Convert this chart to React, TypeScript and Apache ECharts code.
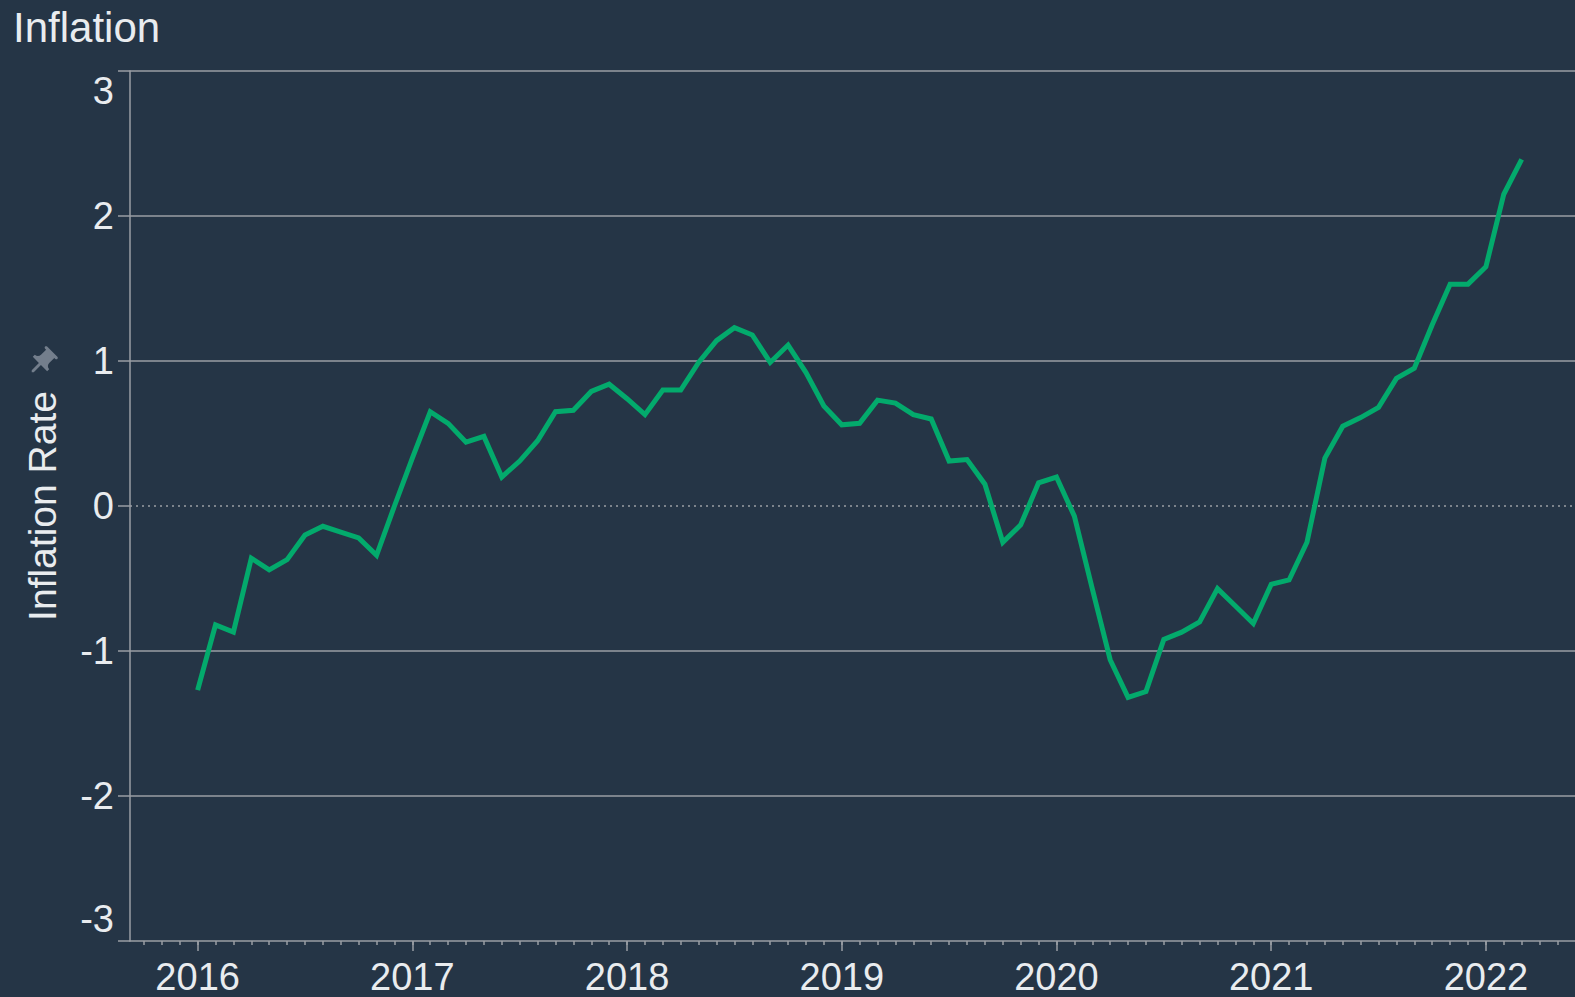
import React, { useEffect, useRef } from "react";
import * as echarts from "echarts";

// ---- data ----
const years = [2016, 2017, 2018, 2019, 2020, 2021, 2022];
const rate2016 = [-1.27, -0.82, -0.87, -0.36, -0.44, -0.37, -0.2, -0.14, -0.18, -0.22, -0.34, 0.0];
const rate2017 = [0.33, 0.65, 0.57, 0.44, 0.48, 0.2, 0.31, 0.45, 0.65, 0.66, 0.79, 0.84];
const rate2018 = [0.74, 0.63, 0.8, 0.8, 0.99, 1.14, 1.23, 1.18, 0.99, 1.11, 0.92, 0.69];
const rate2019 = [0.56, 0.57, 0.73, 0.71, 0.63, 0.6, 0.31, 0.32, 0.15, -0.25, -0.13, 0.16];
const rate2020 = [0.2, -0.07, -0.57, -1.06, -1.32, -1.28, -0.92, -0.87, -0.8, -0.57, -0.69, -0.81];
const rate2021 = [-0.54, -0.51, -0.25, 0.33, 0.55, 0.61, 0.68, 0.88, 0.95, 1.25, 1.53, 1.53];
const rate2022 = [1.65, 2.15, 2.39];
const ratesByYear = [rate2016, rate2017, rate2018, rate2019, rate2020, rate2021, rate2022];

const yTicks = [-3, -2, -1, 0, 1, 2, 3];
const xTickYears = [2016, 2017, 2018, 2019, 2020, 2021, 2022];
const xMin = 2015.685;
const xMax = 2022.415;

const title = "Inflation";
const yName = "Inflation Rate";

const PIN =
  "M16,9V4l1,0c0.55,0,1-0.45,1-1v0c0-0.55-0.45-1-1-1H7C6.45,2,6,2.45,6,3v0c0,0.55,0.45,1,1,1l1,0v5c0,1.66-1.34,3-3,3h0v2h5.97v7l1,1l1-1v-7H19v-2h0C17.34,12,16,10.66,16,9z";

export default function App() {
  const ref = useRef<HTMLDivElement>(null);

  useEffect(() => {
    if (!ref.current) return;
    try {
      echarts.graphic.registerShape("pin", echarts.graphic.extendPath(PIN, {}));
    } catch (e) {}
    const chart = echarts.init(ref.current, null, { renderer: "svg" });

    const points: [number, number][] = [];
    years.forEach((y, i) => {
      ratesByYear[i].forEach((v, m) => points.push([y + m / 12, v]));
    });

    const monthTicks: number[] = [];
    for (let y = 2015; y <= 2022; y++) {
      for (let m = 0; m < 12; m++) {
        const t = y + m / 12;
        if (t > xMin && t < xMax) monthTicks.push(t);
      }
    }

    const font = "'Liberation Sans', Arial, sans-serif";
    const txt = "#e9ecef";
    const gridCol = "#9a9ea4";
    const gridRect = { left: 130, top: 71, right: 0, bottom: 56 };

    chart.setOption({
      animation: false,
      backgroundColor: "#253546",
      title: {
        text: title,
        left: 8,
        top: 1,
        textStyle: { color: txt, fontSize: 42, fontWeight: "normal", fontFamily: font },
      },
      grid: [gridRect, gridRect],
      xAxis: [
        {
          type: "value",
          gridIndex: 0,
          min: xMin,
          max: xMax,
          axisLine: { show: true, onZero: false, lineStyle: { color: gridCol, width: 1.5 } },
          axisTick: { show: true, customValues: xTickYears, length: 10, lineStyle: { color: gridCol, width: 1.5 } },
          axisLabel: {
            customValues: xTickYears,
            formatter: (v: number) => String(Math.round(v)),
            color: txt,
            fontSize: 38,
            fontFamily: font,
            margin: 17,
          },
          splitLine: { show: false },
        },
        {
          type: "value",
          gridIndex: 1,
          min: xMin,
          max: xMax,
          axisLine: { show: false, onZero: false },
          axisTick: { show: true, customValues: monthTicks, length: 4, lineStyle: { color: gridCol, width: 1.5 } },
          axisLabel: { show: false },
          splitLine: { show: false },
        },
      ],
      yAxis: [
        {
          type: "value",
          gridIndex: 0,
          min: -3,
          max: 3,
          interval: 1,
          name: yName,
          nameLocation: "middle",
          nameRotate: 90,
          nameGap: 68,
          nameTextStyle: { color: txt, fontSize: 39, fontFamily: font },
          axisLine: { show: true, lineStyle: { color: gridCol, width: 1.5 } },
          axisTick: { show: true, length: 12, lineStyle: { color: gridCol, width: 1.5 } },
          axisLabel: {
            color: txt,
            fontSize: 38,
            fontFamily: font,
            margin: 16,
            formatter: (v: number) =>
              v === 3 ? "{top|3}" : v === -3 ? "{bot|-3}" : "{n|" + v + "}",
            rich: {
              top: { color: txt, fontSize: 38, fontFamily: font, padding: [40, 0, 0, 0] },
              bot: { color: txt, fontSize: 38, fontFamily: font, padding: [0, 0, 44, 0] },
              n: { color: txt, fontSize: 38, fontFamily: font },
            },
          },
          splitLine: { show: false },
        },
        { type: "value", gridIndex: 1, min: -3, max: 3, show: false },
      ],
      graphic: [
        {
          type: "pin",
          x: 42 - 12,
          y: 362 - 12,
          originX: 12,
          originY: 12,
          scaleX: 1.45,
          scaleY: 1.45,
          rotation: -Math.PI / 4,
          style: { fill: "#737e8c" },
          silent: true,
        },
      ],
      series: [
        {
          type: "line",
          xAxisIndex: 0,
          yAxisIndex: 0,
          data: [],
          z: 1,
          silent: true,
          markLine: {
            silent: true,
            symbol: "none",
            label: { show: false },
            emphasis: { disabled: true },
            data: yTicks
              .filter((t) => t !== -3)
              .map((t) => ({
                yAxis: t,
                lineStyle:
                  t === 0
                    ? { color: gridCol, width: 1.5, type: [2, 4] }
                    : { color: gridCol, width: 1.5, type: "solid" },
              })),
          },
        },
        {
          type: "line",
          xAxisIndex: 0,
          yAxisIndex: 0,
          data: points,
          z: 5,
          showSymbol: false,
          symbol: "none",
          lineStyle: { color: "#03aa6c", width: 5, join: "miter" },
        },
      ],
    });

    return () => chart.dispose();
  }, []);

  return (
    <div
      ref={ref}
      style={{ position: "fixed", left: 0, top: 0, width: 1575, height: 997 }}
    />
  );
}
